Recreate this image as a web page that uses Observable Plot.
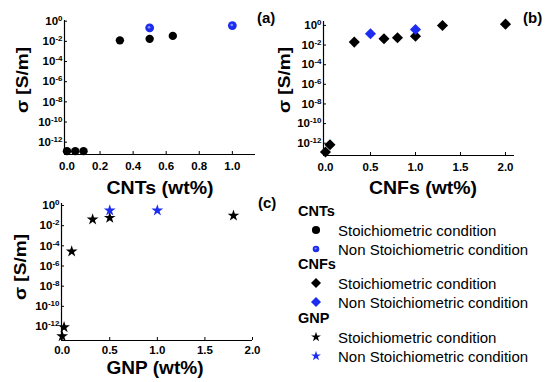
<!DOCTYPE html>
<html>
<head>
<meta charset="utf-8">
<script src="https://cdn.jsdelivr.net/npm/d3@7"></script>
<script src="https://cdn.jsdelivr.net/npm/@observablehq/plot@0.6"></script>
<style>
  html, body { margin: 0; padding: 0; background: #fff; }
  #wrap { position: relative; width: 550px; height: 382px; font-family: "Liberation Sans", Arial, sans-serif; }
  #wrap > div, #wrap > svg { position: absolute; }
</style>
</head>
<body>
<div id="wrap"></div>
<script>
// ---- Data ----
const cntsStoichX = [0, 0.05, 0.1, 0.32, 0.5, 0.64];
const cntsStoichY = [1.3e-13, 1.3e-13, 1.3e-13, 0.0126, 0.0178, 0.035];
const cntsNonX = [0.5, 1.0];
const cntsNonY = [0.22, 0.37];

const cnfsStoichX = [0, 0.05, 0.32, 0.65, 0.8, 1.0, 1.3, 2.0];
const cnfsStoichY = [1.3e-13, 6.9e-13, 0.02, 0.044, 0.056, 0.081, 1.0, 1.35];
const cnfsNonX = [0.5, 1.0];
const cnfsNonY = [0.14, 0.39];

const gnpStoichX = [0, 0.02, 0.1, 0.32, 0.5, 1.8];
const gnpStoichY = [1.1e-13, 8.5e-13, 2.75e-5, 0.041, 0.06, 0.10];
const gnpNonX = [0.5, 1.0];
const gnpNonY = [0.32, 0.32];

const yTicks = [1, 1e-2, 1e-4, 1e-6, 1e-8, 1e-10, 1e-12];
const xTicksA = [0, 0.2, 0.4, 0.6, 0.8, 1.0];
const xTicksBC = [0, 0.5, 1.0, 1.5, 2.0];

const legendGroups = ["CNTs", "CNFs", "GNP"];
const legendItems = ["Stoichiometric condition", "Non Stoichiometric condition"];
const panelLetters = ["(a)", "(b)", "(c)"];
const xTitles = ["CNTs (wt%)", "CNFs (wt%)", "GNP (wt%)"];
const yTitle = "σ [S/m]";

const BLACK = "#000";
const BLUE = "#1c2cf0";
const HILITE = "#8a96ff";
const FONT = '"Liberation Sans", Arial, sans-serif';

const rows = (xs, ys) => xs.map((x, i) => ({x, y: ys[i]}));

function panel(o) {
  const marks = [
    Plot.ruleX([o.xDomain[0]], {stroke: "#000", strokeWidth: 1.2}),
    Plot.ruleY([o.yDomain[0]], {stroke: "#000", strokeWidth: 1.2}),
    Plot.axisX({ticks: o.xTicks, tickFormat: d3.format(".1f"), tickSize: -3, tickPadding: o.xpad, label: null, fontSize: 11.5, fontWeight: "bold"}),
    Plot.axisY({ticks: yTicks, tickFormat: d => "10^" + Math.round(Math.log10(d)), tickSize: -3, tickPadding: 5, label: null, fontSize: 11.5, fontWeight: "bold"}),
    ...o.dots
  ];
  const svg = Plot.plot({
    width: o.width, height: o.height,
    marginLeft: o.ml, marginRight: o.mr, marginTop: o.mt, marginBottom: o.mb,
    x: {domain: o.xDomain},
    y: {type: "log", domain: o.yDomain},
    style: {fontFamily: FONT, color: "#000", background: "transparent", overflow: "visible"},
    marks
  });
  // superscript exponents on the y tick labels
  d3.select(svg).selectAll('g[aria-label="y-axis tick label"] text').each(function() {
    const t = d3.select(this);
    const [b, e] = t.text().split("^");
    t.text(null);
    t.append("tspan").text(b);
    t.append("tspan").attr("dy", "-0.5em").attr("font-size", "8px").text(e);
  });
  svg.style.position = "absolute";
  svg.style.left = o.left + "px";
  svg.style.top = o.top + "px";
  return svg;
}

const wrap = document.getElementById("wrap");

// (a) CNTs
wrap.appendChild(panel({
  left: 0, top: 0, width: 275, height: 200, ml: 64, mr: 20, mt: 20, mb: 46, xpad: 10,
  xDomain: [-0.015, 1.14], yDomain: [Math.pow(10, -13.22), Math.pow(10, 0.07)],
  xTicks: xTicksA,
  dots: [
    Plot.dot(rows(cntsStoichX, cntsStoichY), {x: "x", y: "y", r: 4.2, fill: BLACK}),
    Plot.dot(rows(cntsNonX, cntsNonY), {x: "x", y: "y", r: 4.4, fill: BLUE}),
    Plot.dot(rows(cntsNonX, cntsNonY), {x: "x", y: "y", r: 1.3, fill: HILITE, dx: -0.6, dy: -0.6})
  ]
}));

// (b) CNFs
wrap.appendChild(panel({
  left: 260, top: 0, width: 290, height: 200, ml: 63, mr: 36, mt: 21, mb: 45, xpad: 10,
  xDomain: [-0.022, 2.1], yDomain: [Math.pow(10, -13.25), Math.pow(10, 0.4)],
  xTicks: xTicksBC,
  dots: [
    Plot.dot(rows(cnfsStoichX, cnfsStoichY), {x: "x", y: "y", symbol: "diamond2", r: 5, fill: BLACK}),
    Plot.dot(rows(cnfsNonX, cnfsNonY), {x: "x", y: "y", symbol: "diamond2", r: 5, fill: BLUE})
  ]
}));

// (c) GNP
wrap.appendChild(panel({
  left: 0, top: 190, width: 275, height: 192, ml: 61, mr: 23, mt: 13, mb: 42, xpad: 8,
  xDomain: [-0.007, 2.0], yDomain: [Math.pow(10, -13.39), Math.pow(10, 0.2)],
  xTicks: xTicksBC,
  dots: [
    Plot.dot(rows(gnpStoichX, gnpStoichY), {x: "x", y: "y", symbol: "star", r: 3.7, fill: BLACK}),
    Plot.dot(rows(gnpNonX, gnpNonY), {x: "x", y: "y", symbol: "star", r: 3.7, fill: BLUE})
  ]
}));

// overlay: axis titles, panel letters and legend
const ov = d3.select(wrap).append("svg")
  .attr("width", 550).attr("height", 382)
  .style("left", "0px").style("top", "0px")
  .style("font-family", FONT).style("pointer-events", "none");

// x titles: [centerX, centerY, length]
const xTitlePos = [[160, 187, 107], [423, 187, 108], [155, 367, 97]];
xTitles.forEach((t, i) => {
  const [x, y, len] = xTitlePos[i];
  ov.append("text").attr("x", x).attr("y", y).attr("text-anchor", "middle")
    .attr("dominant-baseline", "central").attr("font-size", 18.5).attr("font-weight", "bold")
    .attr("textLength", len).attr("lengthAdjust", "spacingAndGlyphs").text(t);
});
// y titles: [centerX, centerY]
const yTitlePos = [[22, 80], [284, 80], [20, 267]];
yTitlePos.forEach(([x, y]) => {
  ov.append("text").attr("transform", `translate(${x},${y}) rotate(-90)`)
    .attr("text-anchor", "middle").attr("dominant-baseline", "central")
    .attr("font-size", 16.5).attr("font-weight", "bold")
    .attr("textLength", 66).attr("lengthAdjust", "spacingAndGlyphs").text(yTitle);
});

const letterPos = [[257, 17], [523, 17], [258, 202]];
panelLetters.forEach((t, i) => {
  ov.append("text").attr("x", letterPos[i][0]).attr("y", letterPos[i][1])
    .attr("dominant-baseline", "central").attr("font-size", 15).attr("font-weight", "bold").text(t);
});

const groupY = [211, 264, 318];
const itemY = [[230, 249], [283, 302], [337, 356]];
const symbols = [d3.symbolCircle, d3.symbolDiamond2, d3.symbolStar];
const symSize = [[52, 34], [64, 64], [30, 30]];
legendGroups.forEach((g, gi) => {
  ov.append("text").attr("x", 298).attr("y", groupY[gi]).attr("dominant-baseline", "central")
    .attr("font-size", 14.5).attr("font-weight", "bold").text(g);
  legendItems.forEach((it, ii) => {
    const y = itemY[gi][ii];
    ov.append("path").attr("transform", `translate(316,${y})`)
      .attr("d", d3.symbol(symbols[gi], symSize[gi][ii])())
      .attr("fill", ii === 0 ? BLACK : BLUE);
    if (gi === 0 && ii === 1) {
      ov.append("circle").attr("cx", 315.6).attr("cy", y - 0.4).attr("r", 1).attr("fill", HILITE);
    }
    ov.append("text").attr("x", 338).attr("y", y).attr("dominant-baseline", "central")
      .attr("font-size", 15).text(it);
  });
});
</script>
</body>
</html>
